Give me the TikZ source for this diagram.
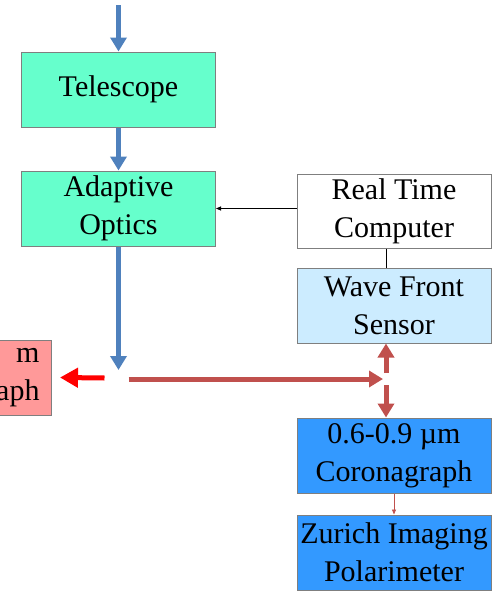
\documentclass[tikz,border=0pt]{standalone}
\usepackage{fontspec}
\setmainfont{Liberation Serif}
\usepackage{xcolor}
\usetikzlibrary{positioning,arrows.meta}
\definecolor{OpticsMint}{HTML}{66FFCC}
\definecolor{SensorBlue}{HTML}{CCECFF}
\definecolor{CoroBlue}{HTML}{3399FF}
\definecolor{CoroPink}{HTML}{FF9999}
\definecolor{BoxEdge}{HTML}{7F7F7F}
\definecolor{BeamBlue}{HTML}{4F81BD}
\definecolor{BeamRed}{HTML}{C0504D}
\definecolor{ControlRed}{HTML}{FF0000}
\tikzset{
    unitbox/.style={draw=BoxEdge, line width=1pt, minimum width=194pt, minimum height=75pt,
        inner sep=0pt, align=center, font=\fontsize{30}{38}\selectfont},
    beam/.style={line width=5pt, -{Triangle[width=16pt,length=14pt]}},
    signal/.style={line width=0.8pt, -{Triangle[width=4pt,length=5pt]}}
}

\begin{document}
\begin{tikzpicture}[x=1pt,y=1pt,node distance=43pt]
        \useasboundingbox (0,0) rectangle (500,-592);

        \node[unitbox, fill=OpticsMint] (tel) at (118.5,-89.5) {Telescope};
        \node[unitbox, fill=OpticsMint, below=of tel] (ao) {Adaptive\\Optics};

        \node[unitbox, fill=white, minimum height=74pt] (rtc) at (394,-211) {Real Time\\Computer};
        \node[unitbox, fill=SensorBlue, below=19pt of rtc] (wfs) {Wave Front\\Sensor};
        \node[unitbox, fill=CoroBlue, below=74pt of wfs] (vis) {0.6-0.9 µm\\Coronagraph};
        \node[unitbox, fill=CoroBlue, below=21pt of vis] (zimpol) {Zurich Imaging\\Polarimeter};

        \node[unitbox, fill=CoroPink, text width=170pt, align=right, inner xsep=12pt, anchor=east] (nir) at (52,-377.5) {m\\aph};

        % beam path and splitter points
        \coordinate (top) at (118.5,-5);
        \coordinate (split) at (118.5,-378);
        \coordinate (pick) at (386,-379);

        \draw[beam, BeamBlue] (top) -- (tel);
        \draw[beam, BeamBlue] (tel) -- (ao);
        \draw[beam, BeamBlue] (ao) -- ([yshift=8pt]split);
        \draw[beam, BeamRed] ([xshift=10pt,yshift=-1pt]split) -- ([xshift=-3pt]pick);
        \draw[beam, BeamRed] ([yshift=6pt]pick) -- (wfs.south -| pick);
        \draw[beam, BeamRed] ([yshift=-6pt]pick) -- (vis.north -| pick);
        \draw[beam, ControlRed, -{Triangle[width=19pt,length=18pt]}] ([xshift=-14pt]split) -- ([xshift=8pt]nir.east);

        % control and feed lines
        \draw[signal, black] (ao.east -| rtc.west) -- (ao.east);
        \draw[line width=0.8pt, black] (rtc.south -| pick) -- (wfs.north -| pick);
        \draw[signal, BeamRed] (vis) -- (zimpol);
    \end{tikzpicture}
\end{document}
